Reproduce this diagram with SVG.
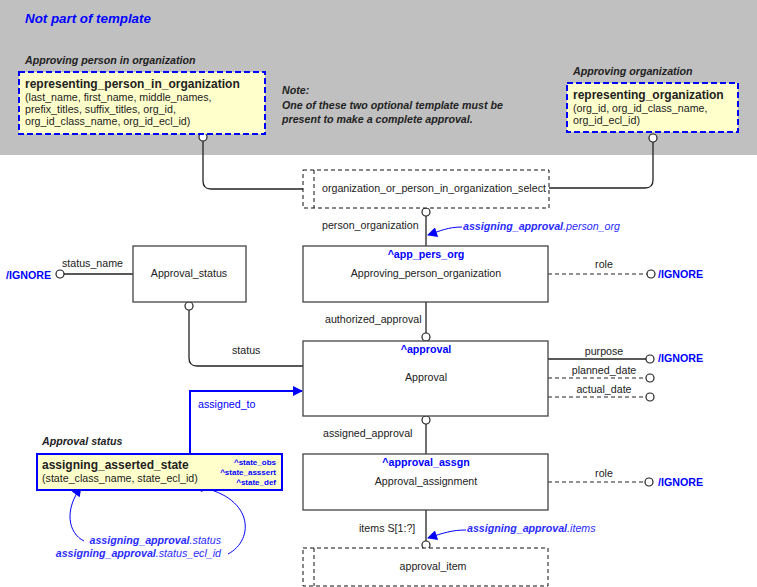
<svg xmlns="http://www.w3.org/2000/svg" width="757" height="587" viewBox="0 0 757 587">
<style>
text{font-family:"Liberation Sans",Arial,sans-serif;font-size:10.67px;fill:#222}
.b{font-weight:bold}
.bi{font-weight:bold;font-style:italic}
.it{font-style:italic}
.blue{fill:#0000ff}
.ann{fill:#2b2bff}
.mid{text-anchor:middle}
.end{text-anchor:end}
.box{fill:#fff;stroke:#444;stroke-width:1.3}
.sel{fill:#fff;stroke:#111;stroke-width:1;stroke-dasharray:4,3}
.tpl{fill:#ffffcc;stroke:#0000ff;stroke-width:2;stroke-dasharray:6,3}
.ln{fill:none;stroke:#222;stroke-width:1.3}
.dl{fill:none;stroke:#222;stroke-width:1.1;stroke-dasharray:4,3}
.c{fill:#fff;stroke:#222;stroke-width:1.2}
.ba{fill:none;stroke:#0000ff;stroke-width:1}
</style>
<defs>
<marker id="ah" viewBox="0 0 10 10" refX="9" refY="5" markerWidth="14" markerHeight="10" markerUnits="userSpaceOnUse" orient="auto">
<path d="M0,0 L10,5 L0,10 Z" fill="#0000ff"/>
</marker>
</defs>
<rect x="0" y="0" width="757" height="155" fill="#c0c0c0"/>
<text x="25" y="23" class="bi blue" style="font-size:13.33px">Not part of template</text>
<text x="282" y="94" class="bi">Note:</text>
<text x="282" y="109" class="bi">One of these two optional template must be</text>
<text x="282" y="123" class="bi">present to make a complete approval.</text>

<g id="connectors">
<path class="ln" d="M203,141 V181 Q203,189 211,189 H303"/>
<path class="ln" d="M653,142 V180 Q653,188 645,188 H549"/>
<path class="ln" d="M426,216 V246"/>
<path class="dl" d="M548,274 H647"/>
<path class="ln" d="M426,302 V333"/>
<path class="ln" d="M133,274 H64"/>
<path class="ln" d="M189,310 V358 Q189,366 197,366 H303"/>
<path class="ln" d="M548,359 H646"/>
<path class="dl" d="M548,378 H646"/>
<path class="dl" d="M548,397 H646"/>
<path class="ln" d="M426,424 V454"/>
<path class="dl" d="M548,482 H645"/>
<path class="ln" d="M426,510 V541"/>
<path d="M190,454 V391 H302" fill="none" stroke="#0000ff" stroke-width="2" marker-end="url(#ah)"/>
<path class="ba" d="M462,227 C448,227 440,231 428,235" marker-end="url(#ah)"/>
<path class="ba" d="M466,530 C452,530 443,533 428,538" marker-end="url(#ah)"/>
<path class="ba" d="M84,541 C68,533 64,510 81,487" marker-end="url(#ah)"/>
<path class="ba" d="M228,554 C255,540 255,495 194,486" marker-end="url(#ah)"/>
<circle class="c" cx="203" cy="137" r="4"/>
<circle class="c" cx="653" cy="138" r="4"/>
<circle class="c" cx="426" cy="212" r="4"/>
<circle class="c" cx="651" cy="274" r="4"/>
<circle class="c" cx="60" cy="274" r="4"/>
<circle class="c" cx="189" cy="306" r="4"/>
<circle class="c" cx="426" cy="337" r="4"/>
<circle class="c" cx="650" cy="359" r="4"/>
<circle class="c" cx="650" cy="378" r="4"/>
<circle class="c" cx="650" cy="397" r="4"/>
<circle class="c" cx="426" cy="420" r="4"/>
<circle class="c" cx="649" cy="482" r="4"/>
<circle class="c" cx="426" cy="545" r="4"/>
<text x="322" y="229">person_organization</text>
<text x="463" y="230" class="ann"><tspan class="bi ann">assigning_approval</tspan><tspan class="it ann">.person_org</tspan></text>
<text x="604" y="268" class="mid">role</text>
<text x="658" y="278" class="b blue">/IGNORE</text>
<text x="325" y="323">authorized_approval</text>
<text x="62" y="267">status_name</text>
<text x="51" y="279" class="b blue end">/IGNORE</text>
<text x="232" y="354">status</text>
<text x="198" y="408" class="blue">assigned_to</text>
<text x="604" y="355" class="mid">purpose</text>
<text x="658" y="362" class="b blue">/IGNORE</text>
<text x="604" y="374" class="mid">planned_date</text>
<text x="604" y="393" class="mid">actual_date</text>
<text x="323" y="437">assigned_approval</text>
<text x="604" y="477" class="mid">role</text>
<text x="658" y="486" class="b blue">/IGNORE</text>
<text x="359" y="532">items S[1:?]</text>
<text x="467" y="532" class="ann"><tspan class="bi ann">assigning_approval</tspan><tspan class="it ann">.items</tspan></text>
<text x="221" y="544" class="end ann"><tspan class="bi ann">assigning_approval</tspan><tspan class="it ann">.status</tspan></text>
<text x="221" y="557" class="end ann"><tspan class="bi ann">assigning_approval</tspan><tspan class="it ann">.status_ecl_id</tspan></text>
</g>

<g id="rep_person">
<text x="25" y="64" class="bi">Approving person in organization</text>
<rect class="tpl" x="19" y="72" width="246" height="62"/>
<text x="25" y="88" class="b" style="font-size:12px">representing_person_in_organization</text>
<text x="25" y="101">(last_name, first_name, middle_names,</text>
<text x="25" y="113">prefix_titles, suffix_titles, org_id,</text>
<text x="25" y="125">org_id_class_name, org_id_ecl_id)</text>
</g>

<g id="rep_org">
<text x="573" y="75" class="bi">Approving organization</text>
<rect class="tpl" x="567" y="83" width="171" height="49"/>
<text x="573" y="99" class="b" style="font-size:12px">representing_organization</text>
<text x="573" y="112">(org_id, org_id_class_name,</text>
<text x="573" y="124">org_id_ecl_id)</text>
</g>

<g id="select">
<rect class="sel" x="303" y="170" width="246" height="38"/>
<path class="sel" d="M314,170 V208"/>
<text x="322" y="192">organization_or_person_in_organization_select</text>
</g>

<g id="app_pers_org">
<rect class="box" x="303" y="246" width="245" height="56"/>
<text x="426" y="258" class="b blue mid">^app_pers_org</text>
<text x="426" y="277" class="mid">Approving_person_organization</text>
</g>

<g id="approval_status">
<rect class="box" x="133" y="246" width="113" height="56"/>
<text x="189" y="277" class="mid">Approval_status</text>
</g>

<g id="approval">
<rect class="box" x="303" y="341" width="245" height="75"/>
<text x="426" y="353" class="b blue mid">^approval</text>
<text x="426" y="381" class="mid">Approval</text>
</g>

<g id="approval_assignment">
<rect class="box" x="303" y="454" width="245" height="56"/>
<text x="426" y="466" class="b blue mid">^approval_assgn</text>
<text x="426" y="485" class="mid">Approval_assignment</text>
</g>

<g id="approval_item">
<rect class="sel" x="303" y="548" width="245" height="38"/>
<path class="sel" d="M314,548 V586"/>
<text x="433" y="570" class="mid">approval_item</text>
</g>

<g id="state">
<text x="42" y="445" class="bi">Approval status</text>
<rect x="37" y="454" width="245" height="36" fill="#ffffcc" stroke="#0000ff" stroke-width="2"/>
<text x="42" y="469" class="b" style="font-size:12px">assigning_asserted_state</text>
<text x="42" y="482">(state_class_name, state_ecl_id)</text>
<text x="276" y="465" class="b blue end" style="font-size:8px">^state_obs</text>
<text x="276" y="475" class="b blue end" style="font-size:8px">^state_asssert</text>
<text x="276" y="485" class="b blue end" style="font-size:8px">^state_def</text>
</g>
</svg>
